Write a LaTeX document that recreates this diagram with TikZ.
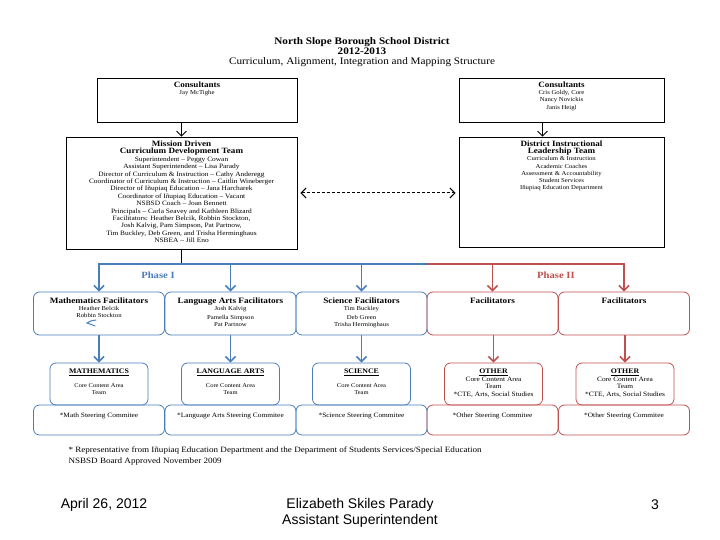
\documentclass[tikz,border=0pt]{standalone}
\usepackage{fontspec}
\setmainfont{Liberation Serif}[FakeStretch=1.12]
\newfontfamily\footfont{Liberation Sans}
\usetikzlibrary{arrows.meta}
\definecolor{phaseblue}{RGB}{74,126,187}
\definecolor{phasered}{RGB}{192,80,77}
\newcommand{\boxhead}[1]{{\fontsize{8.1}{9}\selectfont\bfseries #1}}
\newcommand{\smallhead}[1]{{\fontsize{8.2}{9}\selectfont\bfseries #1}}
\newcommand{\teamhead}[1]{{\fontsize{7}{8}\selectfont\bfseries\underline{#1}}}

\begin{document}
\begin{tikzpicture}[x=1pt, y=-1pt, >={Straight Barb[length=5pt,width=10pt]},
  box/.style={draw, line width=0.8pt, inner sep=0pt},
  bluebox/.style={draw=phaseblue, line width=0.8pt, rounded corners=6pt, inner sep=0pt},
  redbox/.style={draw=phasered, line width=0.8pt, rounded corners=6pt, inner sep=0pt},
  boxtext/.style={anchor=north, align=center, inner sep=0pt, font=\fontsize{6}{7.2}\selectfont},
  blueline/.style={draw=phaseblue, line width=1.6pt},
  redline/.style={draw=phasered, line width=1.6pt},
  phase/.style={font=\fontsize{9.5}{10}\selectfont\bfseries},
  foot/.style={font=\footfont\fontsize{14}{16}\selectfont}]
\useasboundingbox (0,0) rectangle (720,540);

% title
\node[align=center, font=\fontsize{10}{10}\selectfont] (title) at (362,52)
  {\textbf{North Slope Borough School District}\\ \textbf{2012-2013}\\
   Curriculum, Alignment, Integration and Mapping Structure};

% consultants
\node[box, minimum width=200, minimum height=44] (cl) at (197,100) {};
\node[boxtext] (cl-txt) at ([yshift=-4pt]cl.north) {\boxhead{Consultants}\\ Jay McTighe};
\node[box, minimum width=205, minimum height=44] (cr) at (561.5,100) {};
\node[boxtext] (cr-txt) at ([yshift=-4pt]cr.north)
  {\boxhead{Consultants}\\ Cris Goldy, Core\\ Nancy Novickis\\ Janis Heigl};

% teams
\node[box, minimum width=231, minimum height=112] (mdt) at (181.5,193) {};
\node[boxtext, font=\fontsize{6.6}{7.4}\selectfont] (mdt-txt) at ([yshift=-4pt]mdt.north)
  {\boxhead{Mission Driven}\\ \boxhead{Curriculum Development Team}\\
   Superintendent -- Peggy Cowan\\
   Assistant Superintendent -- Lisa Parady\\
   Director of Curriculum \& Instruction -- Cathy Anderegg\\
   Coordinator of Curriculum \& Instruction -- Caitlin Wineberger\\
   Director of Iñupiaq Education -- Jana Harcharek\\
   Coordinator of Iñupiaq Education -- Vacant\\
   NSBSD Coach -- Joan Bennett\\
   Principals -- Carla Seavey and Kathleen Blizard\\
   Facilitators: Heather Belcik, Robbin Stockton,\\
   Josh Kalvig, Pam Simpson, Pat Partnow,\\
   Tim Buckley, Deb Green, and Trisha Herminghaus\\
   NSBEA -- Jill Eno};
\node[box, minimum width=205, minimum height=110] (dil) at (561.5,192) {};
\node[boxtext] (dil-txt) at ([yshift=-4pt]dil.north)
  {\boxhead{District Instructional}\\ \boxhead{Leadership Team}\\
   Curriculum \& Instruction\\ Academic Coaches\\ Assessment \& Accountability\\
   Student Services\\ Iñupiaq Education Department};

\draw[line width=0.8pt, ->] (cl.south -| mdt.north) -- (mdt.north);
\draw[line width=0.8pt, ->] ([xshift=-19pt]cr.south) -- ([xshift=-19pt]dil.north);
\draw[line width=1pt, dashed, dash pattern=on 3pt off 2pt, <->, shorten <=3pt, shorten >=3pt]
  (mdt.east) -- (mdt.east -| dil.west);

% facilitators
\node[bluebox, minimum width=131, minimum height=43] (math) at (99,313.5) {};
\node[bluebox, minimum width=131, minimum height=43] (lang) at (230.5,313.5) {};
\node[bluebox, minimum width=131, minimum height=43] (sci) at (361.5,313.5) {};
\node[redbox, minimum width=131, minimum height=43] (facA) at (492.5,313.5) {};
\node[redbox, minimum width=131, minimum height=43] (facB) at (624,313.5) {};
\node[boxtext] (math-txt) at ([yshift=-6pt]math.north)
  {\smallhead{Mathematics Facilitators}\\ Heather Belcik\\ Robbin Stockton};
\node[boxtext] (lang-txt) at ([yshift=-6pt]lang.north)
  {\smallhead{Language Arts Facilitators}\\ Josh Kalvig\\[1.5pt] Pamella Simpson\\ Pat Partnow};
\node[boxtext] (sci-txt) at ([yshift=-6pt]sci.north)
  {\smallhead{Science Facilitators}\\ Tim Buckley\\[1.5pt] Deb Green\\ Trisha Herminghaus};
\node[boxtext] (facA-txt) at ([yshift=-6pt]facA.north) {\smallhead{Facilitators}};
\node[boxtext] (facB-txt) at ([yshift=-6pt]facB.north) {\smallhead{Facilitators}};
\draw[phaseblue, line width=1pt, line cap=round] (96,320) .. controls (90,321) .. (87,323)
  .. controls (90,324) .. (95,326);

% phases
\coordinate (bus) at (0,264);
\draw[line width=1.2pt] (mdt.south) -- (mdt.south |- bus);
\draw[blueline, ->] (bus -| sci.east) -- (bus -| math.north) -- (math.north);
\foreach \n in {lang,sci}
  \draw[blueline, ->] (bus -| \n.north) -- (\n.north);
\draw[redline, ->] (bus -| sci.east) -- (bus -| facB.north) -- (facB.north);
\draw[redline, ->] (bus -| facA.north) -- (facA.north);
\node[phase, text=phaseblue] (ph1) at (158,275) {Phase I};
\node[phase, text=phasered] (ph2) at (556,275) {Phase II};

% core content area teams
\node[bluebox, minimum width=98, minimum height=42] (mathteam) at (99,384) {};
\node[bluebox, minimum width=98, minimum height=42] (langteam) at (230.5,384) {};
\node[bluebox, minimum width=98, minimum height=42] (sciteam) at (361.5,384) {};
\node[redbox, minimum width=98, minimum height=42] (othA) at (493.5,384) {};
\node[redbox, minimum width=98, minimum height=42] (othB) at (625,384) {};
\tikzset{teamtext/.style={boxtext, font=\fontsize{5.8}{7}\selectfont}}
\node[teamtext] (mathteam-txt) at ([yshift=-6pt]mathteam.north)
  {\teamhead{MATHEMATICS}\\[7pt] Core Content Area\\ Team};
\node[teamtext] (langteam-txt) at ([yshift=-6pt]langteam.north)
  {\teamhead{LANGUAGE ARTS}\\[7pt] Core Content Area\\ Team};
\node[teamtext] (sciteam-txt) at ([yshift=-6pt]sciteam.north)
  {\teamhead{SCIENCE}\\[7pt] Core Content Area\\ Team};
\node[boxtext, font=\fontsize{6.6}{7.7}\selectfont] (othA-txt) at ([yshift=-6pt]othA.north)
  {\teamhead{OTHER}\\ Core Content Area\\ Team\\ *CTE, Arts, Social Studies};
\node[boxtext, font=\fontsize{6.6}{7.7}\selectfont] (othB-txt) at ([yshift=-6pt]othB.north)
  {\teamhead{OTHER}\\ Core Content Area\\ Team\\ *CTE, Arts, Social Studies};
\foreach \a/\b in {math/mathteam,lang/langteam,sci/sciteam}
  \draw[blueline, ->] (\a.south) -- (\b.north);
\foreach \a/\b in {facA/othA,facB/othB}
  \draw[redline, ->] (\a.south -| \b.north) -- (\b.north);

% steering committees
\node[bluebox, minimum width=131, minimum height=30] (mathsc) at (99,420) {};
\node[bluebox, minimum width=131, minimum height=30] (langsc) at (230.5,420) {};
\node[bluebox, minimum width=131, minimum height=30] (scisc) at (361.5,420) {};
\node[redbox, minimum width=131, minimum height=30] (othscA) at (492.5,420) {};
\node[redbox, minimum width=131, minimum height=30] (othscB) at (624,420) {};
\tikzset{sctext/.style={boxtext, font=\fontsize{6.6}{7.5}\selectfont}}
\node[sctext] (mathsc-txt) at ([yshift=-8pt]mathsc.north) {*Math Steering Commitee};
\node[sctext] (langsc-txt) at ([yshift=-8pt]langsc.north) {*Language Arts Steering Commitee};
\node[sctext] (scisc-txt) at ([yshift=-8pt]scisc.north) {*Science Steering Commitee};
\node[sctext] (othscA-txt) at ([yshift=-8pt]othscA.north) {*Other Steering Commitee};
\node[sctext] (othscB-txt) at ([yshift=-8pt]othscB.north) {*Other Steering Commitee};

% notes
\node[anchor=west, align=left, font=\fontsize{8.1}{11}\selectfont] (note) at (65,456)
  {* Representative from Iñupiaq Education Department and the Department of Students Services/Special Education\\
   NSBSD Board Approved November 2009};

% footer
\node[foot] (date) at (104,505) {April 26, 2012};
\node[foot] (author) at (360,505) {Elizabeth Skiles Parady};
\node[foot] (role) at (360,521) {Assistant Superintendent};
\node[foot] (page) at (655,505) {3};
\end{tikzpicture}
\end{document}
